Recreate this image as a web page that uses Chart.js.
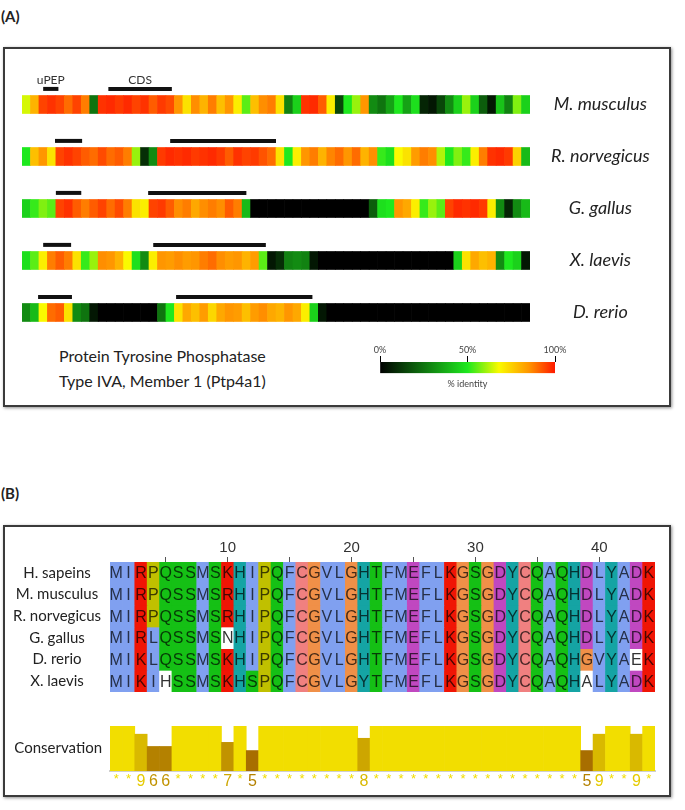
<!DOCTYPE html>
<html lang="en">
<head>
<meta charset="UTF-8">
<title>Ptp4a1</title>
<script src="https://cdn.jsdelivr.net/npm/chart.js"></script>
<style>
    body { margin: 0; background: #fff; font-family: Lato, sans-serif; color: #222; }
    #page { position: relative; width: 685px; height: 810px; overflow: hidden; }
    .abs { position: absolute; }
    .panel-label { font-weight: bold; font-size: 15px; }
    .box { border: 2px solid #3a3a3a; box-shadow: 1px 1px 3px rgba(0,0,0,.45); }
</style>
</head>
<body>
<div id="page">
    <div class="abs panel-label" style="left:1px; top:7px;">(A)</div>
    <div class="abs box" style="left:3px; top:47px; width:664px; height:356px;"></div>
    <canvas id="heat" class="abs" style="left:0; top:60px;" width="672" height="275"></canvas>
    <div class="abs" style="left:59px; top:343px; font-size:16px; line-height:25px;">
        Protein Tyrosine Phosphatase<br>Type IVA, Member 1 (Ptp4a1)
    </div>
    <canvas id="scale" class="abs" style="left:350px; top:340px;" width="235" height="53"></canvas>

    <div class="abs panel-label" style="left:1px; top:484px;">(B)</div>
    <div class="abs box" style="left:3px; top:525px; width:664px; height:268px;"></div>
    <canvas id="align" class="abs" style="left:0; top:530px;" width="672" height="162"></canvas>
    <canvas id="cons" class="abs" style="left:0; top:720px;" width="672" height="78"></canvas>
</div>

<script>
    // ---- panel A : % identity along the transcript (60 bins) ----
    const nBins = 60;
    const species = ['M. musculus', 'R. norvegicus', 'G. gallus', 'X. laevis', 'D. rerio'];
    const musculus   = [65,80,95,97,95,90,95,88,25,97, 98,96,98,95,97,92,96,94,85,72, 86,80,88,78,85,70,55,78,86,88, 72,28,45,97,98,92,70,15,50,60, 85,30,25,35,50,35,48,8,5,15, 30,45,60,45,20,5,42,28,58,45];
    const norvegicus = [50,78,85,72,95,97,95,92,90,94, 90,92,88,60,10,30,96,98,97,98, 96,97,98,96,92,97,95,96,93,90, 72,50,70,85,88,80,87,90,85,90, 80,86,52,48,68,72,84,88,86,62, 50,58,52,70,88,97,98,96,75,40];
    const gallus     = [45,52,58,55,95,97,92,88,92,95, 90,94,88,72,70,95,96,92,86,88, 82,86,88,86,92,88,40,0,0,0, 0,0,0,0,0,0,0,0,0,0, 0,20,48,50,85,82,70,52,60,55, 95,98,97,98,96,70,30,8,30,40];
    const laevis     = [48,55,70,88,92,88,72,52,60,86, 85,80,68,48,30,70,85,84,86,84, 85,88,90,86,84,85,80,84,55,5, 10,28,30,28,5,0,0,0,0,0, 0,0,0,0,0,0,0,0,0,0, 0,45,72,82,78,80,30,50,45,5];
    const rerio      = [30,40,68,90,92,72,30,25,5,0, 0,0,0,0,0,0,25,50,72,82, 78,84,74,82,85,84,78,84,86,82, 80,85,82,70,45,5,0,0,0,0, 0,0,0,0,0,0,0,0,0,0, 0,0,0,0,0,0,0,0,0,0];
    const identityRows = [musculus, norvegicus, gallus, laevis, rerio];
    // uPEP and CDS extents, in bins
    const upep = [[2.5, 4.3], [3.9, 7.1], [4.0, 7.0], [2.5, 5.8], [1.9, 5.9]];
    const cds  = [[10.2, 17.7], [17.5, 30.0], [14.9, 26.5], [15.5, 28.8], [18.2, 34.3]];
    const scaleTicks = [0, 50, 100];

    // ---- panel B : alignment ----
    const seqNames = ['H. sapeins', 'M. musculus', 'R. norvegicus', 'G. gallus', 'D. rerio', 'X. laevis'];
    const sequences = [
        'MIRPQSSMSKHIPQFCGVLGHTFMEFLKGSGDYCQAQHDLYADK',
        'MIRPQSSMSRHIPQFCGVLGHTFMEFLKGSGDYCQAQHDLYADK',
        'MIRPQSSMSRHIPQFCGVLGHTFMEFLKGSGDYCQAQHDLYADK',
        'MIRLQSSMSNHIPQFCGVLGHTFMEFLKGSGDYCQAQHDLYADK',
        'MIKLQSSMSKHIPQFCGVLGHTFMEFLKGSGDYCQAQHGVYAEK',
        'MIKIHSSMSKHSPQFCGVLGYTFMEFLKGSGDYCQAQHALYADK'
    ];
    const unshaded = [[3, 9], [4, 42], [5, 4], [5, 38]]; // [row, column] left white
    const conservation = [11,11,9,6,6,11,11,11,11,7, 11,5,11,11,11,11,11,11,11,11, 8,11,11,11,11,11,11,11,11,11, 11,11,11,11,11,11,11,11,5,9, 11,11,9,11];
    const positions = sequences[0].split('').map((c, i) => String(i + 1));

    // colour helpers
    const idStops = [[0, [0,0,0]], [50, [30,232,30]], [68, [250,250,0]], [85, [255,150,0]], [100, [255,25,0]]];
    function lerpStops(stops, v) {
        for (let k = 1; k < stops.length; k++) {
            if (v <= stops[k][0]) {
                const [a, ca] = stops[k - 1], [b, cb] = stops[k];
                const t = (v - a) / (b - a);
                return 'rgb(' + ca.map((c, n) => Math.round(c + (cb[n] - c) * t)).join(',') + ')';
            }
        }
        return 'rgb(' + stops[stops.length - 1][1].join(',') + ')';
    }
    const identityColor = v => lerpStops(idStops, v);

    const clustal = {
        blue: '#80a0f0', red: '#f01505', magenta: '#c048c0', green: '#15c015',
        pink: '#f08080', orange: '#f09048', yellow: '#c0c000', cyan: '#15a4a4'
    };
    function residueColor(r) {
        if ('AILMFWV'.includes(r)) return clustal.blue;
        if ('KR'.includes(r)) return clustal.red;
        if ('ED'.includes(r)) return clustal.magenta;
        if ('NQST'.includes(r)) return clustal.green;
        if (r === 'C') return clustal.pink;
        if (r === 'G') return clustal.orange;
        if (r === 'P') return clustal.yellow;
        if ('HY'.includes(r)) return clustal.cyan;
        return '#ffffff';
    }
    function darken(hex, f) {
        const n = parseInt(hex.slice(1), 16);
        return 'rgb(' + [(n >> 16) & 255, (n >> 8) & 255, n & 255].map(c => Math.round(c * f)).join(',') + ')';
    }
    const consStops = [[0, [110,50,0]], [5, [168,110,0]], [11, [242,222,0]]];
    const consColor = s => lerpStops(consStops, s);

    // keep tick labels from shrinking the plot area
    function noPad(a) { a.paddingTop = 0; a.paddingBottom = 0; a.paddingLeft = 0; a.paddingRight = 0; }

    const common = {
        responsive: false,
        animation: false,
        plugins: { legend: { display: false }, tooltip: { enabled: false } }
    };

    // ---------- heat rows ----------
    const heatSets = identityRows.map((row, r) => ({
        type: 'bar',
        data: row.map((v, i) => ({ x: [i, i + 1], y: r })),
        backgroundColor: row.map(identityColor),
        barThickness: 18,
        grouped: false,
        borderWidth: 0
    }));
    const markSets = [];
    identityRows.forEach((row, r) => {
        [upep[r], cds[r]].forEach(seg => markSets.push({
            type: 'line',
            data: [{ x: seg[0], y: r - 0.3 }, { x: seg[1], y: r - 0.3 }],
            borderColor: '#111',
            borderWidth: 4,
            borderCapStyle: 'butt',
            pointRadius: 0
        }));
    });

    const markLabels = {
        id: 'markLabels',
        afterDatasetsDraw(chart) {
            const { ctx, scales } = chart;
            ctx.save();
            ctx.font = '12px Lato';
            ctx.fillStyle = '#333';
            ctx.textAlign = 'center';
            ctx.textBaseline = 'bottom';
            const yy = scales.y.getPixelForValue(-0.3) - 3;
            ctx.fillText('uPEP', scales.x.getPixelForValue((upep[0][0] + upep[0][1]) / 2), yy);
            ctx.fillText('CDS', scales.x.getPixelForValue((cds[0][0] + cds[0][1]) / 2), yy);
            ctx.restore();
        }
    };

    new Chart(document.getElementById('heat'), {
        type: 'bar',
        data: { datasets: heatSets.concat(markSets) },
        options: Object.assign({}, common, {
            indexAxis: 'y',
            layout: { padding: { left: 22, right: 0, top: 0, bottom: 0 } },
            scales: {
                x: { type: 'linear', min: 0, max: nBins, display: false, offset: false },
                y: {
                    type: 'linear', min: -0.856, max: 4.433, reverse: true, position: 'right', offset: false,
                    grid: { display: false }, border: { display: false },
                    afterBuildTicks: a => { a.ticks = species.map((s, i) => ({ value: i })); },
                    afterFit: a => { a.width = 142; noPad(a); },
                    ticks: {
                        callback: v => species[v],
                        crossAlign: 'center', padding: 13,
                        font: { family: 'Lato', style: 'italic', size: 18 }, color: '#222'
                    }
                }
            }
        }),
        plugins: [markLabels]
    });

    // ---------- colour key ----------
    new Chart(document.getElementById('scale'), {
        type: 'bar',
        data: {
            labels: ['identity'],
            datasets: [{
                data: [[0, 100]],
                backgroundColor: ctx => {
                    const area = ctx.chart.chartArea;
                    if (!area) return '#888';
                    const g = ctx.chart.ctx.createLinearGradient(area.left, 0, area.right, 0);
                    idStops.forEach(([v, c]) => g.addColorStop(v / 100, 'rgb(' + c.join(',') + ')'));
                    return g;
                },
                barPercentage: 1, categoryPercentage: 1, borderWidth: 0
            }]
        },
        options: Object.assign({}, common, {
            indexAxis: 'y',
            layout: { padding: { left: 30, right: 30, top: 0, bottom: 0 } },
            plugins: {
                legend: { display: false }, tooltip: { enabled: false },
                title: { display: true, text: '% identity', position: 'bottom', color: '#444',
                         font: { family: 'Lato', size: 9, weight: 'normal' }, padding: { top: 5, bottom: 4 } }
            },
            scales: {
                x: {
                    type: 'linear', min: 0, max: 100, position: 'top', offset: false,
                    afterBuildTicks: a => { a.ticks = scaleTicks.map(v => ({ value: v })); },
                    afterFit: a => { a.height = 22; noPad(a); },
                    grid: { drawOnChartArea: false, tickLength: 6, color: '#000' },
                    border: { display: false },
                    ticks: { callback: v => v + '%', padding: 1, color: '#444', font: { family: 'Lato', size: 9 } }
                },
                y: { display: false }
            }
        })
    });

    // ---------- alignment ----------
    const isUnshaded = (r, c) => unshaded.some(u => u[0] === r && u[1] === c);
    const alignSets = sequences.map((seq, r) => ({
        data: seq.split('').map(() => [r, r + 1]),
        backgroundColor: seq.split('').map((ch, c) => isUnshaded(r, c) ? '#ffffff' : residueColor(ch)),
        barPercentage: 1, categoryPercentage: 1, grouped: false, borderWidth: 0
    }));

    const letters = {
        id: 'letters',
        afterDatasetsDraw(chart) {
            const ctx = chart.ctx;
            ctx.save();
            ctx.font = '16px "Liberation Sans"';
            ctx.textAlign = 'center';
            ctx.textBaseline = 'middle';
            sequences.forEach((seq, r) => {
                chart.getDatasetMeta(r).data.forEach((el, c) => {
                    const p = el.getProps(['x', 'y', 'base'], true);
                    ctx.fillStyle = isUnshaded(r, c) ? '#333' : darken(residueColor(seq[c]), 0.3);
                    ctx.fillText(seq[c], p.x, (p.y + p.base) / 2 + 1);
                });
            });
            ctx.restore();
        }
    };

    new Chart(document.getElementById('align'), {
        type: 'bar',
        data: { labels: positions, datasets: alignSets },
        options: Object.assign({}, common, {
            layout: { padding: { left: 0, right: 17, top: 0, bottom: 0 } },
            scales: {
                x: {
                    position: 'top', offset: true,
                    afterFit: a => { a.height = 32; noPad(a); },
                    grid: {
                        drawOnChartArea: false, offset: false, tickLength: 5,
                        color: ctx => ((ctx.index + 1) % 5 === 0 ? '#555' : 'rgba(0,0,0,0)')
                    },
                    border: { display: false },
                    ticks: {
                        autoSkip: false, maxRotation: 0, padding: 0, color: '#333',
                        font: { family: 'Liberation Sans', size: 15 },
                        callback: (v, i) => ((i + 1) % 10 === 0 ? String(i + 1) : '')
                    }
                },
                y: {
                    type: 'linear', min: 0, max: sequences.length, reverse: true, position: 'left', offset: false,
                    grid: { display: false }, border: { display: false },
                    afterBuildTicks: a => { a.ticks = seqNames.map((s, i) => ({ value: i + 0.5 })); },
                    afterFit: a => { a.width = 110; noPad(a); },
                    ticks: {
                        callback: v => seqNames[Math.floor(v)],
                        crossAlign: 'center', padding: 1, color: '#222',
                        font: { family: 'Lato', size: 15 }
                    }
                }
            }
        }),
        plugins: [letters]
    });

    // ---------- conservation ----------
    new Chart(document.getElementById('cons'), {
        type: 'bar',
        data: {
            labels: positions,
            datasets: [{
                data: conservation,
                backgroundColor: conservation.map(consColor),
                barPercentage: 1, categoryPercentage: 1, borderWidth: 0
            }]
        },
        options: Object.assign({}, common, {
            layout: { padding: { left: 0, right: 17, top: 6, bottom: 0 } },
            scales: {
                x: {
                    afterFit: a => { a.height = 27; noPad(a); },
                    grid: { display: false, drawTicks: false },
                    border: { display: true, color: '#cfcfcf', width: 2 },
                    ticks: {
                        autoSkip: false, maxRotation: 0, padding: 1,
                        callback: (v, i) => (conservation[i] === 11 ? '*' : String(conservation[i])),
                        color: ctx => consColor(Math.min(11, conservation[ctx.index] + 1)),
                        font: ctx => ({ family: 'Liberation Sans', size: conservation[ctx.index] === 11 ? 13 : 16 })
                    }
                },
                y: {
                    min: 0, max: 11, position: 'left', offset: false,
                    grid: { display: false }, border: { display: false },
                    afterBuildTicks: a => { a.ticks = [{ value: 5.5 }]; },
                    afterFit: a => { a.width = 110; noPad(a); },
                    ticks: {
                        callback: () => 'Conservation',
                        crossAlign: 'center', padding: 0, color: '#222',
                        font: { family: 'Lato', size: 15 }
                    }
                }
            }
        })
    });
</script>
</body>
</html>
